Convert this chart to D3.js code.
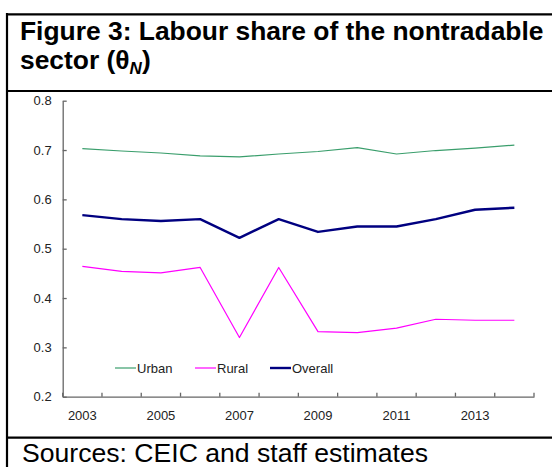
<!DOCTYPE html>
<html><head><meta charset="utf-8">
<script src="https://cdn.jsdelivr.net/npm/d3@7"></script>
<style>body{margin:0;background:#fff;} svg{display:block;font-family:"Liberation Sans",Arial,sans-serif;}</style>
</head><body>
<script>
const years = [2003,2004,2005,2006,2007,2008,2009,2010,2011,2012,2013,2014];
const urban = [0.703,0.698,0.694,0.688,0.686,0.692,0.697,0.705,0.692,0.699,0.704,0.710];
const rural = [0.464,0.454,0.451,0.462,0.320,0.462,0.332,0.330,0.339,0.357,0.355,0.355];
const overall = [0.568,0.560,0.556,0.560,0.522,0.560,0.534,0.545,0.545,0.560,0.579,0.583];
const yTicks = [0.2,0.3,0.4,0.5,0.6,0.7,0.8];
const xLabelYears = [2003,2005,2007,2009,2011,2013];
const seriesNames = ["Urban","Rural","Overall"];
const colors = ["#3a9e6c","#ff00ff","#000080"];
const widths = [1.2,1.2,2.4];

const W=552,H=467;
const svg=d3.select("body").append("svg").attr("width",W).attr("height",H);

// frame
const frame = svg.append("g").attr("stroke","#000").attr("stroke-width",2.2).attr("fill","none");
frame.append("line").attr("x1",7).attr("x2",7).attr("y1",13).attr("y2",H+2);
frame.append("line").attr("x1",6).attr("x2",W+2).attr("y1",14.3).attr("y2",14.3);
frame.append("line").attr("x1",6).attr("x2",W+2).attr("y1",91).attr("y2",91);
frame.append("line").attr("x1",6).attr("x2",W+2).attr("y1",437.7).attr("y2",437.7);

// title
const t = svg.append("text").attr("x",20).attr("font-weight","bold").attr("font-size",26.4).attr("fill","#000");
t.append("tspan").attr("x",20).attr("y",40).text("Figure 3: Labour share of the nontradable");
t.append("tspan").attr("x",20).attr("y",69).text("sector (θ");
t.append("tspan").attr("font-size",17).attr("font-style","italic").attr("dy",5).text("N");
t.append("tspan").attr("dy",-5).text(")");

svg.append("text").attr("x",22).attr("y",462).attr("font-size",26.6).attr("fill","#000")
  .text("Sources: CEIC and staff estimates");

// scales
const x = d3.scaleBand().domain(years).range([62.7,534]);
const y = d3.scaleLinear().domain([0.2,0.8]).range([396.7,100.7]);

const axisCol="#666";
// y axis
const ya = svg.append("g").attr("transform","translate(62.7,0)")
  .call(d3.axisLeft(y).tickValues(yTicks).tickFormat(d3.format(".1f")).tickSizeInner(-4).tickSizeOuter(0).tickPadding(11));
ya.select(".domain").attr("stroke",axisCol).attr("stroke-width",1.3);
ya.selectAll(".tick line").attr("stroke",axisCol).attr("stroke-width",1.3);
ya.selectAll("text").attr("font-size",13).attr("fill","#222").attr("font-family","Liberation Sans, Arial, sans-serif");

// x axis
const xa = svg.append("g").attr("transform","translate(0,396.7)")
  .call(d3.axisBottom(x).tickValues([]).tickSizeOuter(0));
xa.select(".domain").attr("stroke",axisCol).attr("stroke-width",1.3);
const tickPos = years.map(d=>x(d)).concat([x.range()[1]]);
xa.selectAll(".tk").data(tickPos).enter().append("line").attr("class","tk")
  .attr("x1",d=>d).attr("x2",d=>d).attr("y1",0).attr("y2",-4).attr("stroke",axisCol).attr("stroke-width",1.3);
xa.selectAll(".lbl").data(xLabelYears).enter().append("text").attr("class","lbl")
  .attr("x",d=>x(d)+x.bandwidth()/2).attr("y",23).attr("text-anchor","middle")
  .attr("font-size",13).attr("fill","#222").text(d=>d);

// lines
const line = d3.line().x((d,i)=>x(years[i])+x.bandwidth()/2).y(d=>y(d));
[urban,rural,overall].forEach((s,i)=>{
  svg.append("path").datum(s).attr("d",line).attr("fill","none")
    .attr("stroke",colors[i]).attr("stroke-width",widths[i]).attr("stroke-linejoin","round");
});

// legend
const legX=[115,195,270];
seriesNames.forEach((n,i)=>{
  const g=svg.append("g").attr("transform",`translate(${legX[i]},368)`);
  g.append("line").attr("x1",0).attr("x2",21).attr("stroke",colors[i]).attr("stroke-width",widths[i]);
  g.append("text").attr("x",22).attr("y",4.5).attr("font-size",13).attr("fill","#222").text(n);
});
</script>
</body></html>
